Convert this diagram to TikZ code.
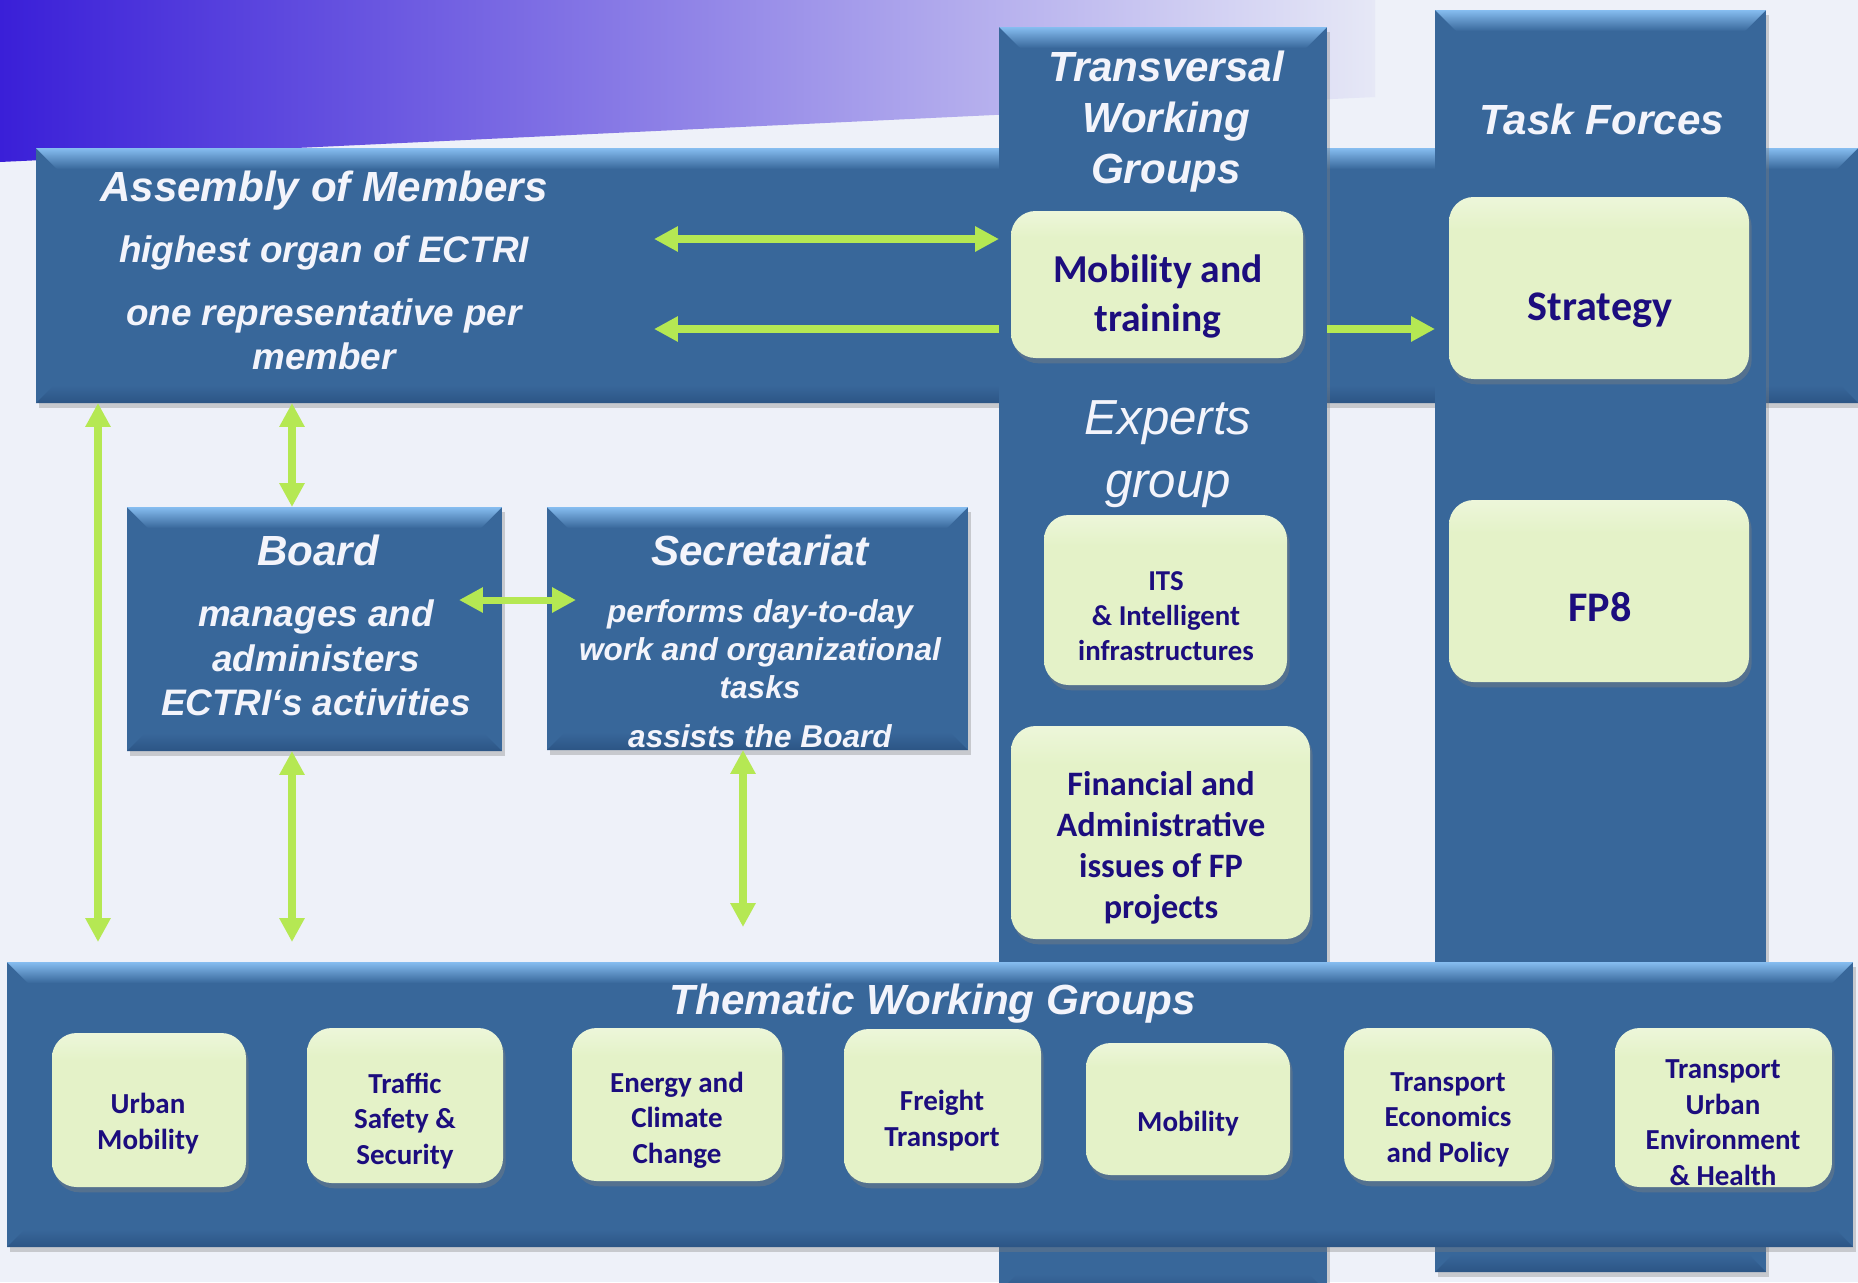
\documentclass[tikz,border=0pt]{standalone}
\usepackage{fontspec}
\setmainfont{Liberation Sans}
\newfontfamily\calib{Carlito}
\usetikzlibrary{arrows.meta,shadows}
\definecolor{bgc}{HTML}{EEF1F9}
\definecolor{grl}{HTML}{3A1FD8}
\definecolor{grr}{HTML}{E6E8F6}
\definecolor{bmain}{HTML}{38679A}
\definecolor{blight}{HTML}{86BDF0}
\definecolor{bdark}{HTML}{2C5585}
\definecolor{gmain}{HTML}{E4F2C8}
\definecolor{gtop}{HTML}{F4FAE8}
\definecolor{navy}{HTML}{1C0D7E}
\definecolor{wtext}{HTML}{F3F4FB}
\definecolor{lg}{HTML}{B5E853}
\pgfdeclareverticalshading{greenshade}{100bp}{color(0bp)=(gmain); color(66bp)=(gmain); color(82bp)=(gtop); color(100bp)=(white)}
\newcommand\bevel[1]{%
  \shade[top color=blight, bottom color=bmain] (#1.north west) -- (#1.north east) -- ([xshift=-12pt,yshift=-12pt]#1.north east) -- ([xshift=12pt,yshift=-12pt]#1.north west) -- cycle;
  \shade[top color=bmain, bottom color=bdark] ([xshift=10pt,yshift=10pt]#1.south west) -- ([xshift=-10pt,yshift=10pt]#1.south east) -- (#1.south east) -- (#1.south west) -- cycle;}
\begin{document}
\begin{tikzpicture}[x=0.02cm,y=-0.02cm,
  sz/.style 2 args={minimum width=#1*0.02cm, minimum height=#2*0.02cm},
  bbox/.style={draw=none, fill=bmain, inner sep=0pt, outer sep=0pt, anchor=north west, rectangle,
     drop shadow={shadow xshift=1.5pt, shadow yshift=-3pt, opacity=0.35}},
  gbox/.style={draw=none, shading=greenshade, rounded corners=14pt, inner sep=0pt, outer sep=0pt, anchor=north west, rectangle,
     drop shadow={shadow xshift=1.5pt, shadow yshift=-3pt, opacity=0.4}},
  wt/.style={text=wtext, align=center, inner sep=0pt, yshift=-2.4pt},
  ttl/.style={wt, font=\bfseries\itshape\fontsize{24}{29}\selectfont},
  sub21/.style={wt, font=\bfseries\itshape\fontsize{21}{25.3}\selectfont},
  sub18/.style={wt, font=\bfseries\itshape\fontsize{18}{21.5}\selectfont},
  expt/.style={wt, font=\itshape\fontsize{28}{36}\selectfont},
  gt/.style={text=navy, align=center, inner sep=0pt, yshift=-1.6pt},
  arr/.style={draw=lg, line width=4pt},
  >={Triangle[length=13.6pt,width=13.6pt]}]
\useasboundingbox (0,0) rectangle (1858,1282);
\fill[bgc] (0,0) rectangle (1858,1282);
\shade[left color=grl, right color=grr] (0,0) -- (1375,0) -- (1375,97) -- (0,162) -- cycle;

% blue structures
\node[bbox, sz={1822}{255}] (asm) at (36,148) {};
\bevel{asm}
\node[bbox, sz={328}{1265}] (trans) at (999,27) {};
\bevel{trans}
\node[bbox, sz={331}{1262}] (tf) at (1435,10) {};
\bevel{tf}
\node[bbox, sz={1846}{285}] (them) at (7,962) {};
\bevel{them}
\node[bbox, sz={375}{244}] (board) at (127,507) {};
\bevel{board}
\node[bbox, sz={421}{243}] (secr) at (547,507) {};
\bevel{secr}

% green boxes
\node[gbox, sz={292}{147}] (mt) at (1011,211) {};
\node[gbox, sz={300}{182}] (st) at (1449,197) {};
\node[gbox, sz={243}{170}] (its) at (1044,515) {};
\node[gbox, sz={300}{182}] (fp) at (1449,500) {};
\node[gbox, sz={299}{213}] (fin) at (1011,726) {};
\node[gbox, sz={194}{154}] (um) at (52,1033) {};
\node[gbox, sz={196}{155}] (ts) at (307,1028) {};
\node[gbox, sz={210}{153}] (ec) at (572,1028) {};
\node[gbox, sz={197}{154}] (ft) at (844,1029) {};
\node[gbox, sz={204}{132}] (mo) at (1086,1043) {};
\node[gbox, sz={208}{153}] (te) at (1344,1028) {};
\node[gbox, sz={217}{159}] (tu) at (1615,1028) {};

% arrows
\coordinate (ar1) at (654,239);
\coordinate (ar2) at (654,329);
\coordinate (v1) at (98,942);
\coordinate (v3) at (292,942);
\coordinate (v4) at (743,927);
\coordinate (h1a) at (459,600);
\coordinate (h1b) at (576,600);
\draw[arr,<->] (ar1) -- (ar1 -| trans.west);
\draw[arr,->] (ar2 -| trans.west) -- (ar2);
\draw[arr,->] (ar2 -| trans.east) -- (ar2 -| tf.west);
\draw[arr,<->] (asm.south -| v1) -- (v1);
\draw[arr,<->] (asm.south -| v3) -- (board.north -| v3);
\draw[arr,<->] (board.south -| v3) -- (v3);
\draw[arr,<->] (secr.south -| v4) -- (v4);
\draw[arr,<->] (h1a) -- (h1b);

% white texts
\node[ttl] (asmT) at (324,186) {Assembly of Members};
\node[sub21] (asmS1) at (324,249) {highest organ of ECTRI};
\node[sub21] (asmS2) at (324,330) {one representative per\\member};
\node[ttl] (trT) at (1166,117) {Transversal\\Working\\Groups};
\node[ttl] (tfT) at (1602,115) {Task Forces};
\node[expt] (exT) at (1168,450) {Experts\\group};
\node[ttl] (boT) at (318,546) {Board};
\node[sub21] (boS) at (316,654) {manages and\\administers\\ECTRI‘s activities};
\node[ttl] (seT) at (760,546) {Secretariat};
\node[sub18] (seS) at (760,645) {performs day-to-day\\work and organizational\\tasks};
\node[sub18] (seS2) at (760,732) {assists the Board};
\node[ttl] (thT) at (933,999) {Thematic Working Groups};

% green box texts
\node[gt, font=\calib\bfseries\fontsize{22.5}{27.8}\selectfont] (mtT) at (1158,294) {Mobility and\\training};
\node[gt, font=\calib\bfseries\fontsize{24}{29}\selectfont] (stT) at (1600,307) {Strategy};
\node[gt, font=\calib\bfseries\fontsize{16.4}{20}\selectfont] (itsT) at (1166,613) {ITS\\\& Intelligent\\infrastructures};
\node[gt, font=\calib\bfseries\fontsize{24}{29}\selectfont] (fpT) at (1600,604) {FP8};
\node[gt, font=\calib\bfseries\fontsize{19.5}{23.5}\selectfont] (finT) at (1161,845) {Financial and\\Administrative\\issues of FP\\projects};
\begin{scope}[every node/.style={gt, font=\calib\bfseries\fontsize{16.5}{20.2}\selectfont}]
\node (umT) at (148,1121) {Urban\\Mobility};
\node (tsT) at (405,1118) {Traffic\\Safety \&\\Security};
\node (ecT) at (677,1117) {Energy and\\Climate\\Change};
\node (ftT) at (942,1118) {Freight\\Transport};
\node (moT) at (1188,1121) {Mobility};
\node (teT) at (1448,1117) {Transport\\Economics\\and Policy};
\node (tuT) at (1723,1120) {Transport\\Urban\\Environment\\\& Health};
\end{scope}
\end{tikzpicture}
\end{document}
